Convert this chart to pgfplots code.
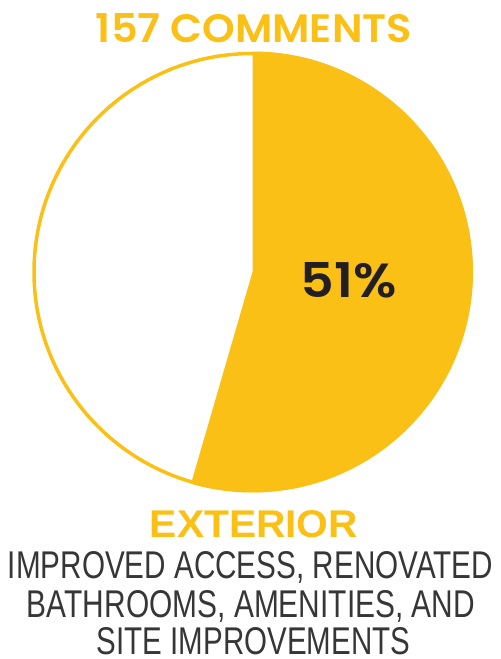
\documentclass[border=0pt]{standalone}
\usepackage{pgfplots}
\pgfplotsset{compat=1.18}
\usepackage{fontspec}
\usepackage{graphicx}
\setmainfont{Liberation Sans}
\newfontfamily\pops{Poppins SemiBold}
\definecolor{pieyellow}{HTML}{FBC016}
\definecolor{txtgray}{HTML}{363636}
\definecolor{numdark}{HTML}{231F20}

% share of the yellow slice as drawn (label says 51%)
\pgfmathsetmacro\share{54.5}
\pgfmathsetmacro\endang{90-3.6*\share}

\begin{document}
\begin{tikzpicture}
\begin{axis}[
  width=501bp, height=659bp, scale only axis,
  xmin=0, xmax=501, ymin=0, ymax=659,
  y dir=reverse,
  hide axis, clip=false,
]
\path (rel axis cs:0,0) rectangle (rel axis cs:1,1);

% pie
\draw[pieyellow, line width=3.5bp] (axis cs:252.5,272) circle[radius=218.5bp];
\fill[pieyellow] (axis cs:252.5,272) -- ++(90:220.5bp)
  arc[start angle=90, end angle=\endang, radius=220.5bp] -- cycle;

% texts
\node[anchor=base, inner sep=0pt, text=pieyellow] at (axis cs:254,43)
  {\resizebox{316bp}{29bp}{\pops 157 COMMENTS}};
\node[anchor=base, inner sep=0pt, text=numdark] at (axis cs:349,297)
  {\resizebox{96bp}{35bp}{\pops 51\%}};
\node[anchor=base, inner sep=0pt, text=pieyellow] at (axis cs:254,537)
  {\resizebox{208bp}{27bp}{\bfseries EXTERIOR}};
\node[anchor=base, inner sep=0pt, text=txtgray] at (axis cs:250.5,578)
  {\resizebox{485bp}{27bp}{IMPROVED ACCESS, RENOVATED}};
\node[anchor=base, inner sep=0pt, text=txtgray] at (axis cs:251,617)
  {\resizebox{448bp}{27bp}{BATHROOMS, AMENITIES, AND}};
\node[anchor=base, inner sep=0pt, text=txtgray] at (axis cs:253.5,654)
  {\resizebox{313bp}{27bp}{SITE IMPROVEMENTS}};
\end{axis}
\end{tikzpicture}
\end{document}
